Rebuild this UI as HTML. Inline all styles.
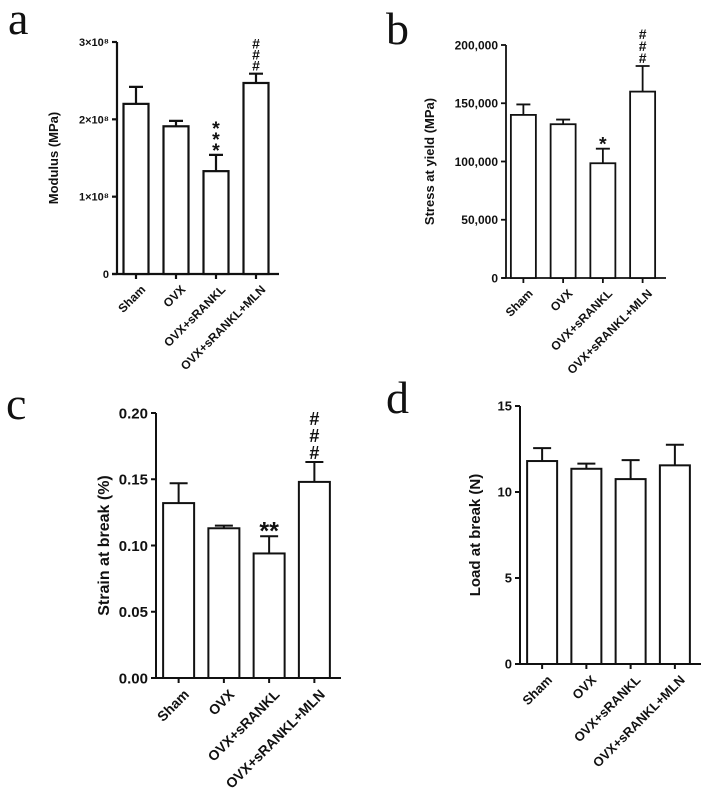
<!DOCTYPE html>
<html><head><meta charset="utf-8"><style>
html,body{margin:0;padding:0;background:#fff;}
svg{display:block;}
text{font-family:"Liberation Sans",Arial,sans-serif;font-weight:bold;fill:#111;}
.pl{font-family:"Liberation Serif",serif;font-weight:normal;font-size:46px;}
</style></head><body>
<svg id="fig" width="708" height="802" viewBox="0 0 708 802" xmlns="http://www.w3.org/2000/svg">
<text class="pl" x="8" y="34">a</text>
<text class="pl" x="386" y="44">b</text>
<text class="pl" x="6" y="419">c</text>
<text class="pl" x="386" y="413">d</text>
</svg>
<script>
const categories = ["Sham","OVX","OVX+sRANKL","OVX+sRANKL+MLN"];
const modulusMean = [2.2e8, 1.91e8, 1.33e8, 2.47e8];
const modulusErr = [0.22e8, 0.07e8, 0.21e8, 0.12e8];
const modulusTicks = [0, 1e8, 2e8, 3e8];
const modulusTickLabels = ["0","1×10⁸","2×10⁸","3×10⁸"];
const modulusMarks = ["", "", "*\n*\n*", "#\n#\n#"];
const stressMean = [140000, 132000, 98500, 160000];
const stressErr = [9000, 4000, 12500, 22000];
const stressTicks = [0, 50000, 100000, 150000, 200000];
const stressTickLabels = ["0","50,000","100,000","150,000","200,000"];
const stressMarks = ["", "", "*", "#\n#\n#"];
const strainMean = [0.132, 0.113, 0.094, 0.148];
const strainErr = [0.015, 0.002, 0.013, 0.015];
const strainTicks = [0, 0.05, 0.10, 0.15, 0.20];
const strainTickLabels = ["0.00","0.05","0.10","0.15","0.20"];
const strainMarks = ["", "", "**", "#\n#\n#"];
const loadMean = [11.8, 11.35, 10.75, 11.55];
const loadErr = [0.75, 0.3, 1.1, 1.2];
const loadTicks = [0, 5, 10, 15];
const loadTickLabels = ["0","5","10","15"];
const loadMarks = ["", "", "", ""];

const NS = "http://www.w3.org/2000/svg";
const svg = document.getElementById("fig");
function mk(tag, attrs, parent){
  const e = document.createElementNS(NS, tag);
  for (const k in attrs) e.setAttribute(k, attrs[k]);
  (parent||svg).appendChild(e); return e;
}
function panel(cfg){
  const g = mk("g", {});
  
  
  const y = v => cfg.y0 + (cfg.yTop - cfg.y0) * (v / cfg.max);
  const sw = cfg.sw;
  const ya = mk("line", {x1:cfg.ax, y1:y(cfg.max), x2:cfg.ax, y2:cfg.y0, stroke:"#111","stroke-width":sw}, g);
  
  
  cfg.ticks.forEach((t,i)=>{
    mk("line", {x1:cfg.ax-5, y1:y(t), x2:cfg.ax, y2:y(t), stroke:"#111","stroke-width":sw}, g);
    const tl = mk("text", {x:cfg.ax-8, y:y(t)+cfg.fs*0.36, "text-anchor":"end","font-size":cfg.fs}, g);
    tl.textContent = cfg.tickLabels[i];
    
    
  });
  const tt = mk("text", {transform:`translate(${cfg.titleX},${(y(cfg.max)+cfg.y0)/2}) rotate(-90)`, "text-anchor":"middle","font-size":cfg.tfs}, g);
  tt.textContent = cfg.title;
  
  
  const xa = mk("line", {x1:cfg.xa0, y1:cfg.y0, x2:cfg.xa1, y2:cfg.y0, stroke:"#111","stroke-width":sw}, g);
  
  
  const step = (cfg.xa1 - cfg.ax - cfg.pad) / categories.length;
  categories.forEach((c,i)=>{
    const cx = cfg.ax + cfg.pad/2 + step*(i+0.5) + cfg.shift;
    const x0 = cx - cfg.bw/2;
    const top = y(cfg.mean[i]);
    const bar = mk("rect", {x:x0, y:top, width:cfg.bw, height:cfg.y0-top, fill:"#fff", stroke:"#111","stroke-width":sw}, g);
    
    
    const et = y(cfg.mean[i] + cfg.err[i]);
    const eb = mk("path", {d:`M${cx},${top} V${et} M${cx-cfg.cap},${et} H${cx+cfg.cap}`, stroke:"#111","stroke-width":sw, fill:"none"}, g);
    
    
    mk("line", {x1:cx, y1:cfg.y0, x2:cx, y2:cfg.y0+5, stroke:"#111","stroke-width":sw}, g);
    const lx = cx + 4, ly = cfg.y0 + 10;
    const lab = mk("text", {transform:`translate(${lx},${ly}) rotate(-45)`, "text-anchor":"end","font-size":cfg.lfs, "dominant-baseline":"hanging"}, g);
    lab.textContent = c;
    
    
    const m = cfg.marks[i];
    if (m){
      const lines = m.split("\n");
      lines.forEach((s,k)=>{
        const n = lines.length - 1 - k;
        const isStar = s.indexOf("*")>=0;
        const f = isStar ? cfg.mfs*1.4 : cfg.mfs;
        const t = mk("text", {x:cx, y:et - 3 - n*cfg.mh + (isStar? f*0.25 : 0), "text-anchor":"middle","font-size":f, "font-weight":"normal"}, g);
        t.textContent = s;
        
        
      });
    }
  });
}
panel({name:"chart-modulus", ax:117, y0:274, yTop:42, max:3e8, ticks:modulusTicks, tickLabels:modulusTickLabels,
  mean:modulusMean, err:modulusErr, marks:modulusMarks, xa0:112, xa1:279, pad:2, shift:-2, bw:25, cap:7, sw:2.2,
  fs:11, tfs:13, titleX:58, lfs:12, title:"Modulus (MPa)", mfs:14, mh:11});
panel({name:"chart-stress-at-yield", ax:506, y0:278, yTop:45, max:200000, ticks:stressTicks, tickLabels:stressTickLabels,
  mean:stressMean, err:stressErr, marks:stressMarks, xa0:502, xa1:666, pad:1, shift:-3, bw:25, cap:7, sw:1.8,
  fs:12, tfs:13, titleX:434, lfs:12, title:"Stress at yield (MPa)", mfs:14, mh:12});
panel({name:"chart-strain-at-break", ax:156, y0:678, yTop:413, max:0.20, ticks:strainTicks, tickLabels:strainTickLabels,
  mean:strainMean, err:strainErr, marks:strainMarks, xa0:152, xa1:341, pad:4, shift:-2, bw:31, cap:9, sw:2,
  fs:15, tfs:16, titleX:109, lfs:14, title:"Strain at break (%)", mfs:18, mh:17});
panel({name:"chart-load-at-break", ax:520, y0:664, yTop:406, max:15, ticks:loadTicks, tickLabels:loadTickLabels,
  mean:loadMean, err:loadErr, marks:loadMarks, xa0:515, xa1:701, pad:4, shift:-2, bw:30, cap:9, sw:2,
  fs:13, tfs:15, titleX:480, lfs:13, title:"Load at break (N)", mfs:16, mh:15});
</script>
</body></html>
